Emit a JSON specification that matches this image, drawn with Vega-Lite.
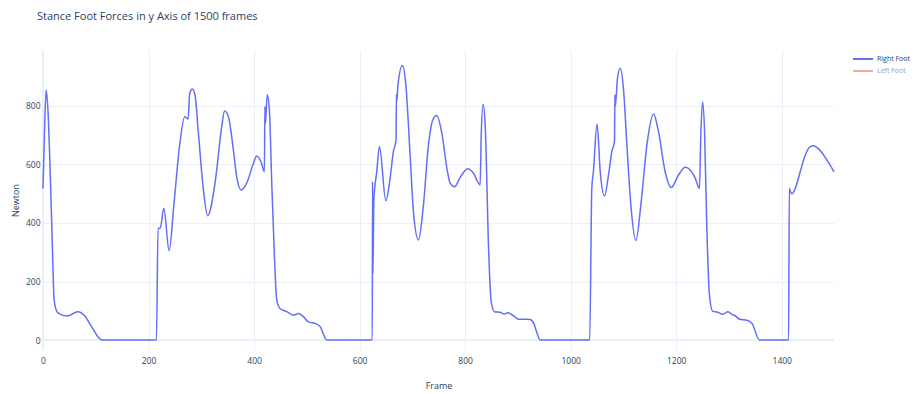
{
  "$schema": "https://vega.github.io/schema/vega-lite/v6.json",
  "width": 791,
  "height": 300,
  "autosize": "none",
  "padding": {"left": 43, "top": 50, "right": 80, "bottom": 44},
  "background": "white",
  "title": {"text": "Stance Foot Forces in y Axis of 1500 frames", "anchor": "start", "frame": "group", "dx": -6, "offset": 18, "baseline": "alphabetic", "fontSize": 11, "font": "Open Sans", "fontWeight": "normal", "color": "#2a3f5f"},
  "datasets": {
    "forces": [
      {"frame": 0, "force": 518, "foot": "Right Foot"},
      {"frame": 3, "force": 724, "foot": "Right Foot"},
      {"frame": 6, "force": 855, "foot": "Right Foot"},
      {"frame": 9.5, "force": 781, "foot": "Right Foot"},
      {"frame": 14, "force": 553, "foot": "Right Foot"},
      {"frame": 17.7, "force": 325, "foot": "Right Foot"},
      {"frame": 20.9, "force": 142, "foot": "Right Foot"},
      {"frame": 25, "force": 103, "foot": "Right Foot"},
      {"frame": 30, "force": 91, "foot": "Right Foot"},
      {"frame": 46, "force": 82, "foot": "Right Foot"},
      {"frame": 66, "force": 97, "foot": "Right Foot"},
      {"frame": 79, "force": 83, "foot": "Right Foot"},
      {"frame": 92, "force": 46, "foot": "Right Foot"},
      {"frame": 112, "force": 0, "foot": "Right Foot"},
      {"frame": 215, "force": 0, "foot": "Right Foot"},
      {"frame": 218, "force": 382, "foot": "Right Foot"},
      {"frame": 222, "force": 382, "foot": "Right Foot"},
      {"frame": 229, "force": 450, "foot": "Right Foot"},
      {"frame": 239, "force": 305, "foot": "Right Foot"},
      {"frame": 248, "force": 462, "foot": "Right Foot"},
      {"frame": 259, "force": 667, "foot": "Right Foot"},
      {"frame": 268.6, "force": 763, "foot": "Right Foot"},
      {"frame": 275, "force": 755, "foot": "Right Foot"},
      {"frame": 278, "force": 843, "foot": "Right Foot"},
      {"frame": 283, "force": 858, "foot": "Right Foot"},
      {"frame": 288, "force": 838, "foot": "Right Foot"},
      {"frame": 294.5, "force": 707, "foot": "Right Foot"},
      {"frame": 304, "force": 513, "foot": "Right Foot"},
      {"frame": 312, "force": 425, "foot": "Right Foot"},
      {"frame": 326, "force": 536, "foot": "Right Foot"},
      {"frame": 338.7, "force": 729, "foot": "Right Foot"},
      {"frame": 344, "force": 783, "foot": "Right Foot"},
      {"frame": 351.4, "force": 763, "foot": "Right Foot"},
      {"frame": 360.8, "force": 649, "foot": "Right Foot"},
      {"frame": 367, "force": 558, "foot": "Right Foot"},
      {"frame": 375.4, "force": 513, "foot": "Right Foot"},
      {"frame": 386, "force": 536, "foot": "Right Foot"},
      {"frame": 398.8, "force": 604, "foot": "Right Foot"},
      {"frame": 405, "force": 629, "foot": "Right Foot"},
      {"frame": 413, "force": 610, "foot": "Right Foot"},
      {"frame": 419.6, "force": 575, "foot": "Right Foot"},
      {"frame": 420.5, "force": 798, "foot": "Right Foot"},
      {"frame": 421.5, "force": 740, "foot": "Right Foot"},
      {"frame": 425, "force": 838, "foot": "Right Foot"},
      {"frame": 429, "force": 786, "foot": "Right Foot"},
      {"frame": 433.5, "force": 536, "foot": "Right Foot"},
      {"frame": 438.6, "force": 285, "foot": "Right Foot"},
      {"frame": 443, "force": 137, "foot": "Right Foot"},
      {"frame": 449, "force": 108, "foot": "Right Foot"},
      {"frame": 462, "force": 97, "foot": "Right Foot"},
      {"frame": 474.5, "force": 85, "foot": "Right Foot"},
      {"frame": 484, "force": 91, "foot": "Right Foot"},
      {"frame": 493.5, "force": 80, "foot": "Right Foot"},
      {"frame": 503, "force": 62, "foot": "Right Foot"},
      {"frame": 515.6, "force": 57, "foot": "Right Foot"},
      {"frame": 525, "force": 46, "foot": "Right Foot"},
      {"frame": 538, "force": 0, "foot": "Right Foot"},
      {"frame": 624, "force": 0, "foot": "Right Foot"},
      {"frame": 624.5, "force": 541, "foot": "Right Foot"},
      {"frame": 625.3, "force": 228, "foot": "Right Foot"},
      {"frame": 627, "force": 480, "foot": "Right Foot"},
      {"frame": 632.5, "force": 575, "foot": "Right Foot"},
      {"frame": 637.6, "force": 661, "foot": "Right Foot"},
      {"frame": 649.7, "force": 476, "foot": "Right Foot"},
      {"frame": 657.8, "force": 553, "foot": "Right Foot"},
      {"frame": 664, "force": 644, "foot": "Right Foot"},
      {"frame": 669, "force": 684, "foot": "Right Foot"},
      {"frame": 669.8, "force": 840, "foot": "Right Foot"},
      {"frame": 670.5, "force": 815, "foot": "Right Foot"},
      {"frame": 672.7, "force": 872, "foot": "Right Foot"},
      {"frame": 681, "force": 938, "foot": "Right Foot"},
      {"frame": 687.6, "force": 872, "foot": "Right Foot"},
      {"frame": 695.7, "force": 632, "foot": "Right Foot"},
      {"frame": 702, "force": 439, "foot": "Right Foot"},
      {"frame": 711.5, "force": 342, "foot": "Right Foot"},
      {"frame": 721, "force": 462, "foot": "Right Foot"},
      {"frame": 730.5, "force": 667, "foot": "Right Foot"},
      {"frame": 738.7, "force": 752, "foot": "Right Foot"},
      {"frame": 746.3, "force": 767, "foot": "Right Foot"},
      {"frame": 755.8, "force": 707, "foot": "Right Foot"},
      {"frame": 766.5, "force": 575, "foot": "Right Foot"},
      {"frame": 771.5, "force": 536, "foot": "Right Foot"},
      {"frame": 779.8, "force": 524, "foot": "Right Foot"},
      {"frame": 790.5, "force": 555, "foot": "Right Foot"},
      {"frame": 805, "force": 585, "foot": "Right Foot"},
      {"frame": 815.8, "force": 570, "foot": "Right Foot"},
      {"frame": 828.4, "force": 530, "foot": "Right Foot"},
      {"frame": 830.5, "force": 701, "foot": "Right Foot"},
      {"frame": 834, "force": 806, "foot": "Right Foot"},
      {"frame": 838, "force": 735, "foot": "Right Foot"},
      {"frame": 844.2, "force": 325, "foot": "Right Foot"},
      {"frame": 849.3, "force": 131, "foot": "Right Foot"},
      {"frame": 855.6, "force": 97, "foot": "Right Foot"},
      {"frame": 866.4, "force": 95, "foot": "Right Foot"},
      {"frame": 874, "force": 89, "foot": "Right Foot"},
      {"frame": 881, "force": 93, "foot": "Right Foot"},
      {"frame": 891.6, "force": 83, "foot": "Right Foot"},
      {"frame": 901, "force": 71, "foot": "Right Foot"},
      {"frame": 913.7, "force": 71, "foot": "Right Foot"},
      {"frame": 923, "force": 70, "foot": "Right Foot"},
      {"frame": 930, "force": 57, "foot": "Right Foot"},
      {"frame": 936, "force": 25, "foot": "Right Foot"},
      {"frame": 942, "force": 0, "foot": "Right Foot"},
      {"frame": 1036, "force": 0, "foot": "Right Foot"},
      {"frame": 1040, "force": 518, "foot": "Right Foot"},
      {"frame": 1043, "force": 575, "foot": "Right Foot"},
      {"frame": 1050, "force": 738, "foot": "Right Foot"},
      {"frame": 1056, "force": 575, "foot": "Right Foot"},
      {"frame": 1064, "force": 492, "foot": "Right Foot"},
      {"frame": 1071.7, "force": 564, "foot": "Right Foot"},
      {"frame": 1078, "force": 644, "foot": "Right Foot"},
      {"frame": 1083, "force": 678, "foot": "Right Foot"},
      {"frame": 1083.8, "force": 838, "foot": "Right Foot"},
      {"frame": 1084.5, "force": 798, "foot": "Right Foot"},
      {"frame": 1088.7, "force": 895, "foot": "Right Foot"},
      {"frame": 1093.8, "force": 929, "foot": "Right Foot"},
      {"frame": 1100, "force": 860, "foot": "Right Foot"},
      {"frame": 1106.5, "force": 667, "foot": "Right Foot"},
      {"frame": 1114, "force": 462, "foot": "Right Foot"},
      {"frame": 1123.6, "force": 340, "foot": "Right Foot"},
      {"frame": 1133, "force": 462, "foot": "Right Foot"},
      {"frame": 1144.5, "force": 667, "foot": "Right Foot"},
      {"frame": 1157, "force": 772, "foot": "Right Foot"},
      {"frame": 1166.4, "force": 712, "foot": "Right Foot"},
      {"frame": 1179, "force": 575, "foot": "Right Foot"},
      {"frame": 1190.5, "force": 521, "foot": "Right Foot"},
      {"frame": 1204.4, "force": 564, "foot": "Right Foot"},
      {"frame": 1217, "force": 590, "foot": "Right Foot"},
      {"frame": 1226.5, "force": 581, "foot": "Right Foot"},
      {"frame": 1236, "force": 553, "foot": "Right Foot"},
      {"frame": 1244, "force": 518, "foot": "Right Foot"},
      {"frame": 1246.8, "force": 712, "foot": "Right Foot"},
      {"frame": 1250, "force": 813, "foot": "Right Foot"},
      {"frame": 1253.7, "force": 712, "foot": "Right Foot"},
      {"frame": 1258, "force": 382, "foot": "Right Foot"},
      {"frame": 1263, "force": 154, "foot": "Right Foot"},
      {"frame": 1268.8, "force": 99, "foot": "Right Foot"},
      {"frame": 1278.3, "force": 95, "foot": "Right Foot"},
      {"frame": 1288.5, "force": 88, "foot": "Right Foot"},
      {"frame": 1298, "force": 97, "foot": "Right Foot"},
      {"frame": 1305.5, "force": 88, "foot": "Right Foot"},
      {"frame": 1311.8, "force": 83, "foot": "Right Foot"},
      {"frame": 1320, "force": 71, "foot": "Right Foot"},
      {"frame": 1334, "force": 68, "foot": "Right Foot"},
      {"frame": 1343.5, "force": 57, "foot": "Right Foot"},
      {"frame": 1358, "force": 0, "foot": "Right Foot"},
      {"frame": 1413, "force": 0, "foot": "Right Foot"},
      {"frame": 1414.3, "force": 518, "foot": "Right Foot"},
      {"frame": 1416.5, "force": 507, "foot": "Right Foot"},
      {"frame": 1419.3, "force": 499, "foot": "Right Foot"},
      {"frame": 1425.6, "force": 518, "foot": "Right Foot"},
      {"frame": 1435, "force": 575, "foot": "Right Foot"},
      {"frame": 1444.5, "force": 632, "foot": "Right Foot"},
      {"frame": 1454, "force": 661, "foot": "Right Foot"},
      {"frame": 1460.3, "force": 664, "foot": "Right Foot"},
      {"frame": 1469.8, "force": 653, "foot": "Right Foot"},
      {"frame": 1485.7, "force": 615, "foot": "Right Foot"},
      {"frame": 1499, "force": 575, "foot": "Right Foot"}
    ],
    "zero": [{"value": 0}]
  },
  "layer": [
    {
      "data": {"name": "zero"},
      "mark": {"type": "rule", "color": "#ebf0f8", "strokeWidth": 2},
      "encoding": {"y": {"field": "value", "type": "quantitative"}}
    },
    {
      "data": {"name": "zero"},
      "mark": {"type": "rule", "color": "#ebf0f8", "strokeWidth": 2},
      "encoding": {"x": {"field": "value", "type": "quantitative"}}
    },
    {
      "data": {"name": "forces"},
      "mark": {"type": "line", "interpolate": "monotone", "strokeWidth": 1.5},
      "encoding": {
        "x": {"field": "frame", "type": "quantitative",
          "scale": {"domain": [0, 1499], "nice": false, "zero": false},
          "axis": {"values": [0, 200, 400, 600, 800, 1000, 1200, 1400], "format": "d", "title": "Frame", "labelPadding": 6, "labelFlush": false, "titleY": 35, "titleBaseline": "middle"}},
        "y": {"field": "force", "type": "quantitative",
          "scale": {"domain": [-34, 991], "nice": false, "zero": false},
          "axis": {"values": [0, 200, 400, 600, 800], "format": "d", "title": "Newton", "labelPadding": 3, "labelFlush": false, "titleX": -23, "titleY": 150}},
        "color": {"field": "foot", "type": "nominal",
          "scale": {"domain": ["Right Foot", "Left Foot"], "range": ["#636efa", "#EF553B"]},
          "legend": {"orient": "none", "legendX": 809, "legendY": 3, "title": null, "symbolType": "stroke", "symbolSize": 400, "symbolStrokeWidth": 2, "clipHeight": 12, "rowPadding": 0, "padding": 0, "labelOffset": 3, "labelFontSize": 7, "labelColor": "#2a3f5f", "labelFont": "Open Sans",
            "encode": {
              "symbols": {"update": {"opacity": {"signal": "datum.label === 'Left Foot' ? 0.5 : 1"}}},
              "labels": {"update": {"opacity": {"signal": "datum.label === 'Left Foot' ? 0.5 : 1"}}}
            }}
        }
      }
    }
  ],
  "config": {
    "font": "Open Sans",
    "view": {"stroke": null},
    "axis": {"grid": true, "gridColor": "#ebf0f8", "gridWidth": 1, "domain": false, "ticks": false, "labelColor": "#2a3f5f", "labelFontSize": 8.5, "labelFont": "Open Sans", "titleColor": "#2a3f5f", "titleFontSize": 9, "titleFontWeight": "normal", "titleFont": "Open Sans"}
  }
}
